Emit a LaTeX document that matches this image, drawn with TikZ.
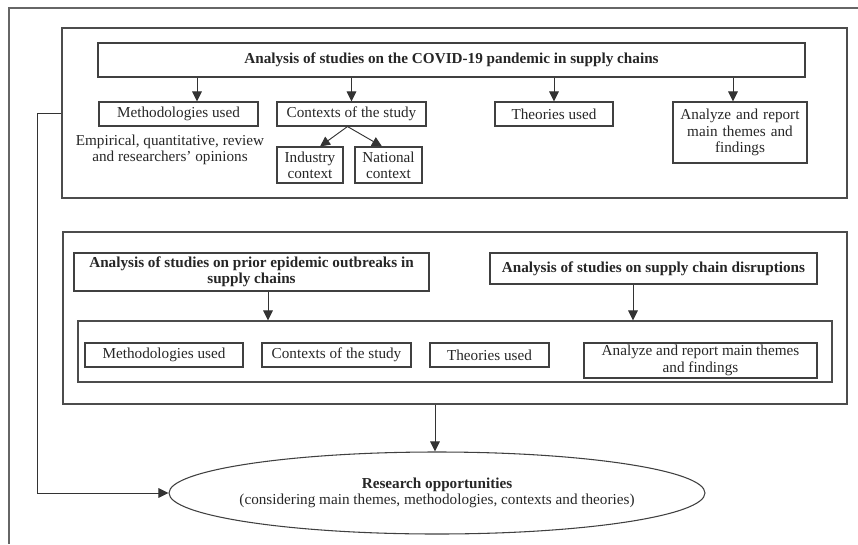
\documentclass[tikz,border=0pt]{standalone}
\usepackage{fontspec}
\setmainfont{Liberation Serif}
\usetikzlibrary{arrows.meta, positioning, calc, shapes.geometric}
\newlength\pxu
\setlength\pxu{0.75pt}

\begin{document}
\begin{tikzpicture}[
  x=0.75pt, y=-0.75pt,
  font=\fontsize{11.4}{12.3}\selectfont,
  >={Triangle[length=7.5pt, width=7.2pt]},
  frame/.style  ={draw=black!60, line width=0.8pt},
  group/.style  ={rectangle, draw=black!70, line width=0.8pt, inner sep=0pt},
  box/.style    ={rectangle, draw=black!75, line width=0.8pt, align=center, inner sep=1pt, text=black!85},
  head/.style   ={box, font=\fontsize{11.4}{12.3}\selectfont\bfseries},
  note/.style   ={align=center, text=black!85},
  arr/.style    ={->, line width=0.7pt, draw=black!80}
]
\useasboundingbox (0,0) rectangle (858,544);

% ---- outer frame (open to the right and below) ----
\coordinate (corner) at (9,8);
\draw[frame] (858,8) -- (corner) -- (9,544);

% ---- COVID-19 group (top) ----
\node[group, minimum width=785\pxu, minimum height=170\pxu] (grp1) at (454.5,113) {};
\node[head, minimum width=707\pxu, minimum height=34\pxu] (title) at (451.5,60)
   {Analysis of studies on the COVID-19 pandemic in supply chains};
\node[box, minimum width=159\pxu, minimum height=24\pxu] (meth1) at (178.5,114) {Methodologies used};
\node[box, minimum width=149\pxu, minimum height=24\pxu] (ctx1)  at (351.5,114) {Contexts of the study};
\node[box, minimum width=118\pxu, minimum height=24\pxu] (theo1) at (554,114)   {Theories used};
\node[box, text width=128\pxu, inner sep=3\pxu, minimum height=61\pxu] (anl1) at (740,132.5)
   {Analyze and report\\ main themes and\\ findings};
\node[note] (emp) at (170,150) {Empirical, quantitative, review\\ and researchers' opinions};
\node[box, minimum width=66\pxu, minimum height=36\pxu] (ind) at (310,165)   {Industry\\ context};
\node[box, minimum width=67\pxu, minimum height=36\pxu] (nat) at (388.5,165) {National\\ context};

% ---- prior outbreaks / disruptions group (middle) ----
\node[group, minimum width=784\pxu, minimum height=172\pxu] (grp2) at (455,318) {};
\node[head, minimum width=355\pxu, minimum height=38\pxu] (prior) at (251.5,272)
   {Analysis of studies on prior epidemic outbreaks in\\ supply chains};
\node[head, minimum width=327\pxu, minimum height=31\pxu] (disr) at (653.5,268.5)
   {Analysis of studies on supply chain disruptions};
\node[group, minimum width=754\pxu, minimum height=61\pxu] (inner) at (455,351.5) {};
\node[box, minimum width=158\pxu, minimum height=24\pxu] (meth2) at (164,355)   {Methodologies used};
\node[box, minimum width=149\pxu, minimum height=24\pxu] (ctx2)  at (336.5,355) {Contexts of the study};
\node[box, minimum width=119\pxu, minimum height=24\pxu] (theo2) at (489.5,355) {Theories used};
\node[box, minimum width=233\pxu, minimum height=35\pxu] (anl2)  at (700.5,360.5)
   {Analyze and report main themes\\ and findings};

% ---- result ----
\node[ellipse, draw=black!75, line width=0.8pt, inner xsep=-20\pxu, inner ysep=0pt, align=center, text=black!85,
      minimum width=536\pxu, minimum height=82\pxu] (opp) at (437,493)
   {\textbf{Research opportunities}\\ (considering main themes, methodologies, contexts and theories)};

% ---- edges ----
\coordinate (t1) at ([xshift=18.5\pxu]meth1.north);
\coordinate (t4) at ([xshift=-7\pxu]anl1.north);
\draw[arr] (t1 |- title.south) -- (t1);
\draw[arr] (ctx1.north |- title.south) -- (ctx1.north);
\draw[arr] (theo1.north |- title.south) -- (theo1.north);
\draw[arr] (t4 |- title.south) -- (t4);
\draw[arr] ([xshift=-4\pxu]ctx1.south) -- ([xshift=10\pxu]ind.north);
\draw[arr] ([xshift=-4\pxu]ctx1.south) -- ([xshift=-6.5\pxu]nat.north);

\coordinate (p1) at ([xshift=16.5\pxu]prior.south);
\coordinate (d1) at ([xshift=-20.5\pxu]disr.south);
\draw[arr] (p1) -- (p1 |- inner.north);
\draw[arr] (d1) -- (d1 |- inner.north);

\coordinate (g2) at ([xshift=-2\pxu]opp.north);
\draw[arr] (g2 |- grp2.south) -- (g2);
\draw[arr] (grp1.west) -- ++(-24,0) |- (opp.west);

\end{tikzpicture}
\end{document}
